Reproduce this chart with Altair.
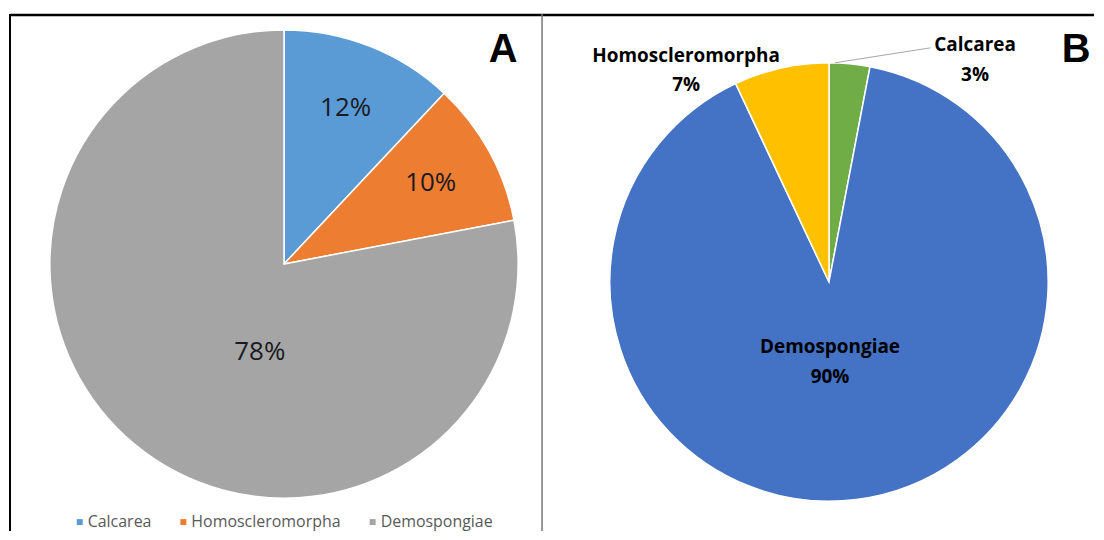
import altair as alt
import pandas as pd

# ---- data ----
cats_a = ["Calcarea", "Homoscleromorpha", "Demospongiae"]
vals_a = [12, 10, 78]
colors_a = ["#5B9BD5", "#ED7D31", "#A5A5A5"]

cats_b = ["Calcarea", "Demospongiae", "Homoscleromorpha"]
vals_b = [3, 90, 7]
colors_b = ["#70AD47", "#4472C4", "#FFC000"]

panel_letters = ["A", "B"]

dfa = pd.DataFrame({"catA": cats_a, "value": vals_a, "idx": list(range(len(cats_a)))})
dfb = pd.DataFrame({"catB": cats_b, "value": vals_b, "idx": list(range(len(cats_b)))})
one = pd.DataFrame({"k": [0]})

# ---- layout (whole chart, origin = page (8, 8)) ----
W, H = 1088, 524
DIV = 534
CXA, CYA, RA = 275, 256, 235
CXB, CYB, RB = 822, 274, 220
FONT = "Open Sans"

# ---------------- Panel A ----------------
baseA = alt.Chart(dfa).encode(
    theta=alt.Theta("value:Q", stack=True),
    order=alt.Order("idx:Q"),
    x=alt.value(CXA),
    y=alt.value(CYA),
)
arcA = baseA.mark_arc(outerRadius=RA, stroke="white", strokeWidth=1.5).encode(
    color=alt.Color(
        "catA:N",
        scale=alt.Scale(domain=cats_a, range=colors_a),
        legend=alt.Legend(
            title=None, orient="none", legendX=62, legendY=507,
            direction="horizontal", symbolType="square", symbolSize=36,
            symbolStrokeWidth=0, labelFont=FONT, labelFontSize=16,
            labelColor="#595959", columnPadding=24, padding=0, labelOffset=0,
        ),
    )
)
txtA1 = baseA.mark_text(radius=168, font=FONT, fontSize=26, color="#1a1a22").encode(
    text="lbl:N"
).transform_calculate(lbl="datum.catA == 'Demospongiae' ? '' : datum.value + '%'")
txtA2 = baseA.mark_text(radius=115, dx=49, font=FONT, fontSize=26, color="#1a1a22").encode(
    text="lbl:N"
).transform_calculate(lbl="datum.catA == 'Demospongiae' ? datum.value + '%' : ''")

# ---------------- Panel B ----------------
baseB = alt.Chart(dfb).encode(
    theta=alt.Theta("value:Q", stack=True),
    order=alt.Order("idx:Q"),
    x=alt.value(CXB),
    y=alt.value(CYB),
)
arcB = baseB.mark_arc(outerRadius=RB, stroke="white", strokeWidth=1.5).encode(
    color=alt.Color("catB:N", scale=alt.Scale(domain=cats_b, range=colors_b), legend=None)
)


def label_layer(cat, radius, dx, dy):
    return baseB.mark_text(
        radius=radius, dx=dx, dy=dy, font=FONT, fontWeight="bold", fontSize=19,
        color="black", lineBreak="\n", lineHeight=30,
    ).encode(text="lbl:N").transform_calculate(
        lbl=f"datum.catB == '{cat}' ? datum.catB + '\\n' + datum.value + '%' : ''"
    )


txtB1 = label_layer("Calcarea", 240, 124, 1)
txtB2 = label_layer("Homoscleromorpha", 240, -91, 7)
txtB3 = label_layer("Demospongiae", 80, -9, -14)

leader = alt.Chart(one).mark_rule(color="#A6A6A6", strokeWidth=1).encode(
    x=alt.value(828), y=alt.value(54), x2=alt.value(924), y2=alt.value(39))

# ---------------- frame & panel letters ----------------
letters = alt.Chart(pd.DataFrame({"t": panel_letters, "px": [495, 1070]})).mark_text(
    font="Liberation Sans", fontWeight="bold", fontSize=40, color="black"
).encode(x=alt.X("px:Q", scale=None), y=alt.value(41), text="t:N")

topLine = alt.Chart(one).mark_rule(color="black", strokeWidth=2.5).encode(
    x=alt.value(0), x2=alt.value(W), y=alt.value(6))
leftLine = alt.Chart(one).mark_rule(color="black", strokeWidth=2).encode(
    x=alt.value(0), y=alt.value(5), y2=alt.value(H))
divLine = alt.Chart(one).mark_rule(color="#777777", strokeWidth=1.5).encode(
    x=alt.value(DIV), y=alt.value(5), y2=alt.value(H))

chart = alt.layer(
    arcA, txtA1, txtA2, arcB, txtB1, txtB2, txtB3, leader, letters,
    topLine, leftLine, divLine,
).resolve_scale(
    color="independent", theta="independent"
).properties(
    width=W, height=H, padding=0
).configure_view(stroke=None)

chart.save("out.html", embed_options={"renderer": "svg", "actions": False})
